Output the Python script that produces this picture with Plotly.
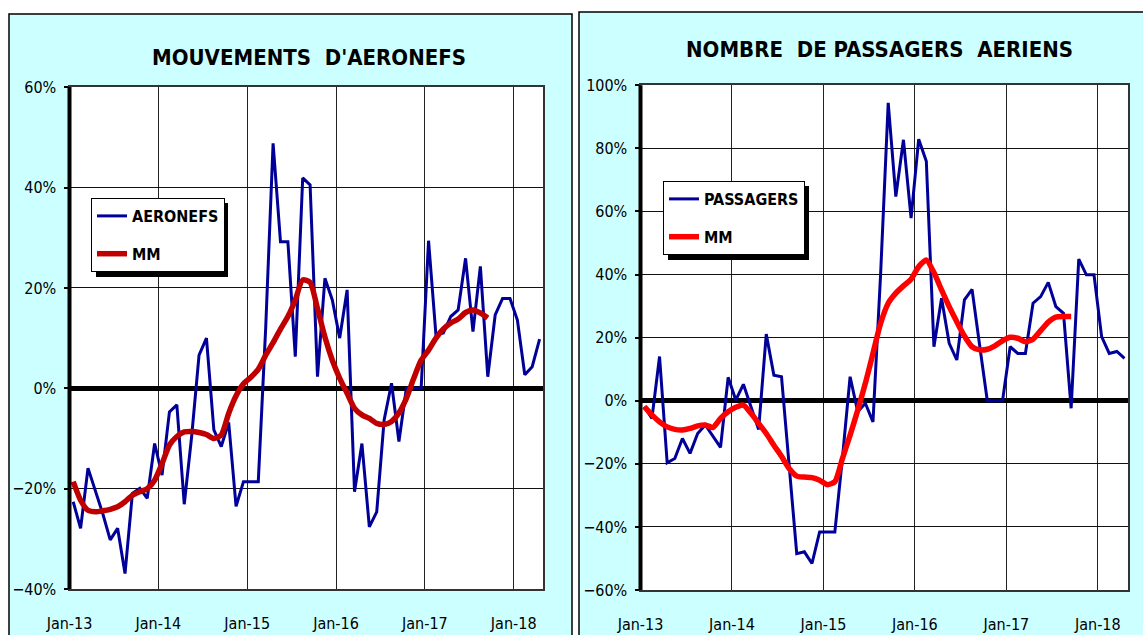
import plotly.graph_objects as go

W, H = 1143, 635

# ---------------- data (monthly, Jan-13 .. Apr-18) ----------------
month_index = list(range(64))
tick_months = [0, 12, 24, 36, 48, 60]
tick_labels = ["Jan-13", "Jan-14", "Jan-15", "Jan-16", "Jan-17", "Jan-18"]

aeronefs = [-22.6, -27.9, -15.9, -20.5, -25.0, -30.2, -27.9, -36.9, -20.9, -19.9,
            -21.9, -11.0, -17.3, -4.7, -3.3, -23.1, -9.6, 6.6, 10.0, -8.3,
            -11.6, -6.8, -23.5, -18.6, -18.6, -18.6, 12.0, 48.8, 29.2, 29.2,
            6.3, 41.9, 40.5, 2.3, 21.9, 17.6, 10.0, 19.6, -20.6, -11.0,
            -27.6, -24.6, -6.3, 1.0, -10.6, 0.0, 0.0, 0.0, 29.4, 10.6,
            11.0, 14.3, 15.6, 25.9, 11.3, 24.3, 2.3, 14.6, 17.9, 17.9,
            13.6, 2.7, 4.3, 9.8]

mm_aeronefs = [-18.6, -22.3, -24.3, -24.6, -24.4, -24.1, -23.6, -22.6, -21.3, -20.6,
               -20.0, -18.3, -15.0, -11.3, -9.6, -8.7, -8.6, -8.8, -9.2, -10.0,
               -9.3, -5.0, -1.5, 0.9, 2.2, 3.8, 6.6, 9.1, 11.8, 14.3,
               17.6, 21.6, 21.1, 15.9, 10.2, 5.6, 2.0, -1.0, -4.0, -5.3,
               -6.0, -7.0, -7.2, -6.6, -4.9, -2.0, 2.0, 5.6, 7.6, 10.0,
               11.8, 13.0, 13.8, 15.1, 15.6, 15.0, 14.0]

passagers = [-1.9, -5.6, 14.0, -19.7, -18.3, -12.0, -16.7, -10.4, -7.7, -11.4,
             -14.8, 7.4, 0.2, 5.2, -2.0, -9.1, 21.1, 8.1, 7.6, -20.6,
             -48.5, -47.9, -51.6, -41.6, -41.6, -41.6, -18.0, 7.6, -3.5, -0.8,
             -6.7, 40.0, 94.4, 64.7, 82.7, 57.9, 82.9, 75.9, 17.1, 32.5,
             18.2, 12.9, 32.0, 35.3, 17.5, 0.0, 0.0, 0.0, 17.1, 15.0,
             15.0, 30.9, 33.0, 37.5, 29.8, 27.7, -2.4, 44.9, 39.9, 39.9,
             20.3, 15.0, 15.6, 13.4]

mm_passagers = [-1.9, -4.5, -6.7, -8.3, -9.1, -9.3, -8.8, -8.0, -7.7, -8.5,
                -5.6, -3.5, -2.1, -1.4, -4.0, -7.2, -10.4, -14.1, -17.6, -21.5,
                -23.9, -24.2, -24.4, -25.2, -26.6, -25.7, -18.3, -10.9, -3.0, 5.5,
                15.0, 24.5, 30.9, 34.1, 36.4, 38.5, 42.5, 44.6, 40.6, 35.1,
                29.8, 25.0, 20.5, 17.1, 16.1, 16.3, 17.4, 19.0, 20.1, 19.8,
                18.7, 19.5, 22.2, 24.9, 26.5, 26.7, 26.7]

# monthly observations sit in the middle of each month on the date axis
x_blue = [m + 0.5 for m in month_index]
x_mm = [m + 0.5 for m in month_index[:len(mm_aeronefs)]]

NARROW = "DejaVu Sans Condensed, Liberation Sans, Arial, sans-serif"
BLUE = "#000099"
DARKRED = "#C00000"
RED = "#FF0000"
CYAN = "#CCFFFF"


def px(x):
    return x / W


def py(y):
    return 1 - y / H


# plot-area geometry (pixels)
L = dict(x0=69.5, x1=543.3, y0=87.1, y1=589.1)
R = dict(x0=640.5, x1=1128.3, y0=85.2, y1=590.0)

fig = go.Figure()

fig.add_trace(go.Scatter(x=x_blue, y=aeronefs, name="AERONEFS", mode="lines",
                         line=dict(color=BLUE, width=3), xaxis="x", yaxis="y",
                         legend="legend", legendgroup="a"))
fig.add_trace(go.Scatter(x=x_mm, y=mm_aeronefs, name="MM", mode="lines",
                         line=dict(color=DARKRED, width=5.5, shape="spline", smoothing=0.6),
                         xaxis="x", yaxis="y", legend="legend", legendgroup="b"))
fig.add_trace(go.Scatter(x=x_blue, y=passagers, name="PASSAGERS", mode="lines",
                         line=dict(color=BLUE, width=3), xaxis="x2", yaxis="y2",
                         legend="legend2", legendgroup="c"))
fig.add_trace(go.Scatter(x=x_mm, y=mm_passagers, name="MM", mode="lines",
                         line=dict(color=RED, width=5.5, shape="spline", smoothing=0.6),
                         xaxis="x2", yaxis="y2", legend="legend2", legendgroup="d"))

tickfont = dict(family=NARROW, size=16, color="#000")

common_x = dict(range=[0, 64], tickvals=tick_months, ticktext=tick_labels,
                showgrid=True, gridcolor="#222", gridwidth=1,
                showline=True, linecolor="#333", linewidth=2, mirror=True,
                ticks="outside", ticklen=0, ticklabelstandoff=19,
                tickfont=tickfont, zeroline=False, fixedrange=True, automargin=False)
common_y = dict(dtick=20, ticksuffix="%", showgrid=True, gridcolor="#111", gridwidth=1,
                zeroline=True, zerolinecolor="#000", zerolinewidth=5,
                showline=True, linecolor="#333", linewidth=2, mirror=True,
                ticks="outside", ticklen=4, tickwidth=2, tickcolor="#000",
                ticklabelstandoff=4, tickfont=tickfont, fixedrange=True, automargin=False)

legend_font = dict(family=NARROW, size=16, color="#000", weight="bold")

fig.update_layout(
    width=W, height=H,
    margin=dict(l=0, r=0, t=0, b=0, pad=0, autoexpand=False),
    paper_bgcolor="white", plot_bgcolor="white",
    xaxis=dict(domain=[px(L["x0"]), px(L["x1"])], anchor="y", **common_x),
    yaxis=dict(domain=[py(L["y1"]), py(L["y0"])], anchor="x", range=[-40, 60], **common_y),
    xaxis2=dict(domain=[px(R["x0"]), px(R["x1"])], anchor="y2", **common_x),
    yaxis2=dict(domain=[py(R["y1"]), py(R["y0"])], anchor="x2", range=[-60, 100], **common_y),
    legend=dict(x=px(91), y=py(198), xanchor="left", yanchor="top",
                bgcolor="white", bordercolor="#000", borderwidth=1,
                font=legend_font, tracegroupgap=14, itemwidth=30),
    legend2=dict(x=px(663), y=py(181), xanchor="left", yanchor="top",
                 bgcolor="white", bordercolor="#000", borderwidth=1,
                 font=legend_font, tracegroupgap=14, itemwidth=30),
    showlegend=True,
)

shapes = []
# panels
shapes.append(dict(type="rect", xref="paper", yref="paper", layer="below",
                   x0=px(9), x1=px(572), y0=-0.05, y1=py(14),
                   fillcolor=CYAN, line=dict(color="#000", width=1.5)))
shapes.append(dict(type="rect", xref="paper", yref="paper", layer="below",
                   x0=px(579), x1=1.05, y0=-0.05, y1=py(12),
                   fillcolor=CYAN, line=dict(color="#000", width=1.5)))
# white plot areas
shapes.append(dict(type="rect", xref="x domain", yref="y domain", layer="below",
                   x0=0, x1=1, y0=0, y1=1, fillcolor="white", line=dict(width=0)))
shapes.append(dict(type="rect", xref="x2 domain", yref="y2 domain", layer="below",
                   x0=0, x1=1, y0=0, y1=1, fillcolor="white", line=dict(width=0)))
# thick left value axes
shapes.append(dict(type="line", xref="x domain", yref="y domain", layer="above",
                   x0=0, x1=0, y0=0, y1=1, line=dict(color="#000", width=4)))
shapes.append(dict(type="line", xref="x2 domain", yref="y2 domain", layer="above",
                   x0=0, x1=0, y0=0, y1=1, line=dict(color="#000", width=4)))
# legend shadows
shapes.append(dict(type="rect", xref="paper", yref="paper", layer="above",
                   x0=px(96), x1=px(228), y0=py(277), y1=py(203),
                   fillcolor="#000", line=dict(width=0)))
shapes.append(dict(type="rect", xref="paper", yref="paper", layer="above",
                   x0=px(668), x1=px(809), y0=py(260), y1=py(186),
                   fillcolor="#000", line=dict(width=0)))
fig.update_layout(shapes=shapes)

titlefont = dict(family=NARROW, size=22, color="#000", weight="bold")
fig.add_annotation(text="MOUVEMENTS  D'AERONEFS", x=px(309), y=py(57), xref="paper", yref="paper",
                   showarrow=False, font=titlefont, xanchor="center", yanchor="middle")
fig.add_annotation(text="NOMBRE  DE PASSAGERS  AERIENS", x=px(879), y=py(50), xref="paper", yref="paper",
                   showarrow=False, font=titlefont, xanchor="center", yanchor="middle")

fig.write_html("out.html", config={"displayModeBar": False},
               post_script="document.body.style.margin='0';")
